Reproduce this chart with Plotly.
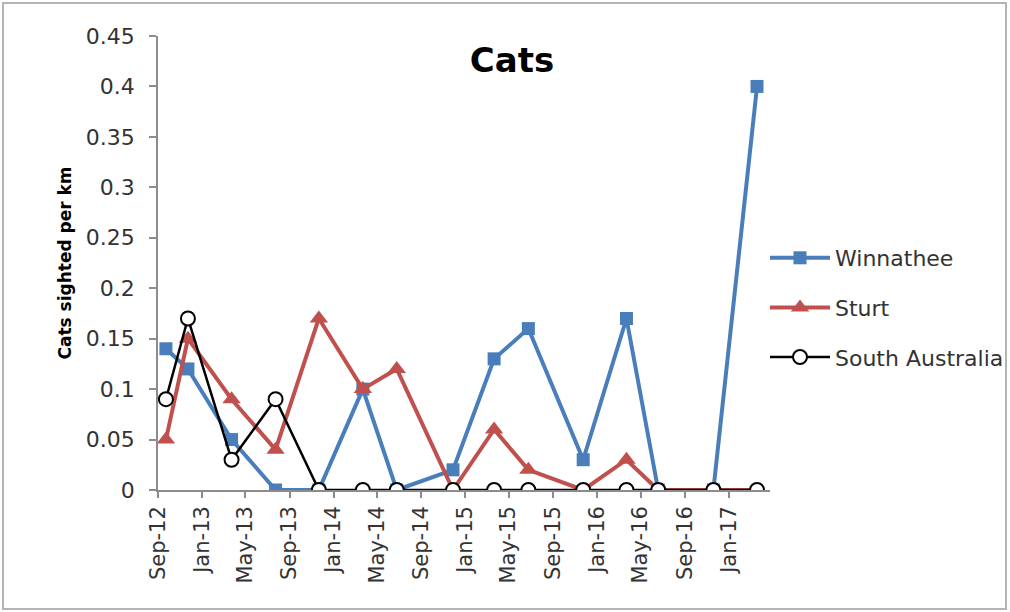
import plotly.graph_objects as go

# Survey dates and cats sighted per km at each site
survey_dates = [
    "2012-09-23", "2012-11-23", "2013-03-24", "2013-07-24", "2013-11-21",
    "2014-03-23", "2014-06-25", "2014-11-28", "2015-03-22", "2015-06-25",
    "2015-11-24", "2016-03-23", "2016-06-19", "2016-11-19", "2017-03-20",
]
winnathee = [0.14, 0.12, 0.05, 0, 0, 0.10, 0, 0.02, 0.13, 0.16, 0.03, 0.17, 0, 0, 0.40]
sturt = [0.05, 0.15, 0.09, 0.04, 0.17, 0.10, 0.12, 0, 0.06, 0.02, 0, 0.03, 0, 0, 0]
south_australia = [0.09, 0.17, 0.03, 0.09, 0, 0, 0, 0, 0, 0, 0, 0, 0, 0, 0]

y_tick_values = [0, 0.05, 0.1, 0.15, 0.2, 0.25, 0.3, 0.35, 0.4, 0.45]
y_tick_labels = ["0", "0.05", "0.1", "0.15", "0.2", "0.25", "0.3", "0.35", "0.4", "0.45"]

FONT = "DejaVu Sans"
TEXT = "#333333"
AXIS = "#8c8c8c"

fig = go.Figure()

fig.add_trace(go.Scatter(
    x=survey_dates, y=winnathee, name="Winnathee", legendgroup="w",
    mode="lines+markers",
    line=dict(color="#4a7ebb", width=4),
    marker=dict(symbol="square", size=13, color="#4a7ebb"),
))
fig.add_trace(go.Scatter(
    x=survey_dates, y=sturt, name="Sturt", legendgroup="s",
    mode="lines+markers",
    line=dict(color="#c0504d", width=4),
    marker=dict(symbol="triangle-up", size=16, color="#c0504d"),
))
fig.add_trace(go.Scatter(
    x=survey_dates, y=south_australia, name="South Australia", legendgroup="sa",
    mode="lines+markers",
    line=dict(color="#000000", width=2.5),
    marker=dict(symbol="circle", size=14, color="white",
                line=dict(color="#000000", width=2)),
))

# plot area: x 158..770 px, y 36..490 px
L, R, T, B = 158, 240, 36, 122
PW, PH = 1010 - L - R, 612 - T - B


def px_x(p):
    return (p - L) / PW


def px_y(p):
    return (612 - B - p) / PH


fig.update_layout(
    width=1010, height=612,
    margin=dict(l=L, r=R, t=T, b=B, autoexpand=False),
    paper_bgcolor="white", plot_bgcolor="white",
    font=dict(family=FONT, color=TEXT),
    title=dict(text="<b>Cats</b>", x=512 / 1010, xref="container", xanchor="center",
               y=1 - 60 / 612, yref="container", yanchor="middle",
               font=dict(size=34, color="#000000", family=FONT)),
    showlegend=True,
    legend=dict(
        x=px_x(765), y=px_y(237), xanchor="left", yanchor="top",
        traceorder="grouped", tracegroupgap=18, itemwidth=60,
        font=dict(size=22, color=TEXT, family=FONT),
        bgcolor="rgba(0,0,0,0)",
    ),
    xaxis=dict(
        type="date",
        range=["2012-09-01", "2017-04-25"],
        tick0="2012-09-01", dtick="M4", tickformat="%b-%y",
        tickangle=-90,
        showgrid=False, zeroline=False,
        showline=True, linecolor=AXIS, linewidth=1.5,
        ticks="outside", ticklen=6, tickcolor=AXIS, tickwidth=1.5,
        tickfont=dict(size=21, color=TEXT, family=FONT),
    ),
    yaxis=dict(
        range=[0, 0.45],
        tickmode="array", tickvals=y_tick_values, ticktext=y_tick_labels,
        showgrid=False, zeroline=False,
        showline=True, linecolor=AXIS, linewidth=1.5,
        ticks="outside", ticklen=7, tickcolor=AXIS, tickwidth=1.5,
        ticklabelstandoff=10,
        tickfont=dict(size=22, color=TEXT, family=FONT),
        title=dict(text="<b>Cats sighted per km</b>", standoff=10,
                   font=dict(size=17, color="#000000", family=FONT)),
    ),
    shapes=[dict(
        type="rect", xref="paper", yref="paper",
        x0=px_x(3), x1=px_x(1006), y0=px_y(609), y1=px_y(3),
        line=dict(color="#b4b4b4", width=2), fillcolor="rgba(0,0,0,0)",
        layer="below",
    )],
)

fig.write_html("out.html")
